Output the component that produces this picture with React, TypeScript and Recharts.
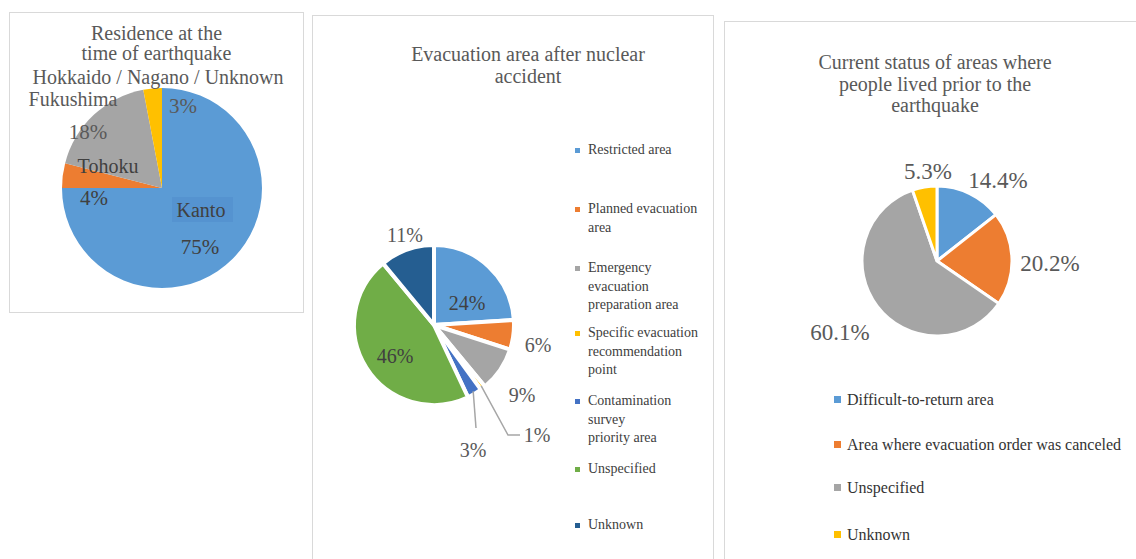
import { PieChart, Pie, Cell } from 'recharts'

// residence at time of earthquake
const residenceNames = ['Kanto', 'Tohoku', 'Fukushima', 'Hokkaido / Nagano / Unknown']
const residenceValues = [75, 4, 18, 3]
const residenceColors = ['#5B9BD5', '#ED7D31', '#A5A5A5', '#FFC000']

// evacuation area after nuclear accident
const evacNames = [
  'Restricted area',
  'Planned evacuation\narea',
  'Emergency\nevacuation\npreparation area',
  'Specific evacuation\nrecommendation\npoint',
  'Contamination\nsurvey\npriority area',
  'Unspecified',
  'Unknown',
]
const evacValues = [24, 6, 9, 1, 3, 46, 11]
const evacColors = ['#5B9BD5', '#ED7D31', '#A5A5A5', '#FFC000', '#4472C4', '#70AD47', '#255E91']

// current status of former home areas
const statusNames = [
  'Difficult-to-return area',
  'Area where evacuation order was canceled',
  'Unspecified',
  'Unknown',
]
const statusValues = [14.4, 20.2, 60.1, 5.3]
const statusColors = ['#5B9BD5', '#ED7D31', '#A5A5A5', '#FFC000']

// label placement, offsets from pie centre
const residenceNameSpots = [[39, 22], [-54, -22], [-89, -89], [-4, -111]]
const residenceValueSpots = [[38, 59], [-68, 10], [-74, -56], [21, -82]]
const evacLabelSpots = [[33, -22], [104, 20], [88, 70], [103, 110], [39, 125], [-39, 31], [-29, -90]]
const evacLeaders: Record<number, number[][]> = { 3: [[74, 110], [86, 110]], 4: [[42, 103]] }
const statusLabelSpots = [[61, -81], [113, 2], [-97, 71], [-9, -90]]

// legend first-line centres (px from panel top)
const evacLegendY = [134, 193, 252, 317, 385, 453, 509]
const statusLegendY = [378, 423, 466, 513]

const FONT = '"Liberation Serif", "DejaVu Serif", serif'
const RAD = Math.PI / 180
const NO_MARGIN = { top: 0, right: 0, bottom: 0, left: 0 }

const toRows = (names: string[], values: number[]) =>
  names.map((name, i) => ({ name, value: values[i] }))

const residenceData = toRows(residenceNames, residenceValues)
const evacData = toRows(evacNames, evacValues)
const statusData = toRows(statusNames, statusValues)

function ResidenceLabel(p: any) {
  const { cx, cy, index, value } = p
  const [nx, ny] = residenceNameSpots[index]
  const [vx, vy] = residenceValueSpots[index]
  const inside = index < 2
  const col = inside ? '#404040' : '#595959'
  return (
    <g>
      {index === 0 && <rect x={cx + 10} y={cy + 9} width={61} height={25} fill="#5593d0" />}
      <text x={cx + nx} y={cy + ny} textAnchor="middle" dominantBaseline="central"
        fontFamily={FONT} fontSize={20} fill={col}>
        {residenceNames[index]}
      </text>
      <text x={cx + vx} y={cy + vy} textAnchor="middle" dominantBaseline="central"
        fontFamily={FONT} fontSize={21} fill={col}>
        {value}%
      </text>
    </g>
  )
}

function EvacLabel(p: any) {
  const { cx, cy, index, value, midAngle, outerRadius } = p
  const [dx, dy] = evacLabelSpots[index]
  const leader = evacLeaders[index]
  let path = ''
  if (leader) {
    const sx = cx + Math.cos(-midAngle * RAD) * (outerRadius - 3)
    const sy = cy + Math.sin(-midAngle * RAD) * (outerRadius - 3)
    path = `M${sx},${sy}` + leader.map(([lx, ly]) => ` L${cx + lx},${cy + ly}`).join('')
  }
  const inside = index === 0 || index === 5
  return (
    <g>
      {leader && <path d={path} stroke="#A6A6A6" strokeWidth={1.5} fill="none" />}
      <text x={cx + dx} y={cy + dy} textAnchor="middle" dominantBaseline="central"
        fontFamily={FONT} fontSize={20} fill={inside ? '#404040' : '#595959'}>
        {value}%
      </text>
    </g>
  )
}

function StatusLabel(p: any) {
  const { cx, cy, index, value } = p
  const [dx, dy] = statusLabelSpots[index]
  return (
    <text x={cx + dx} y={cy + dy} textAnchor="middle" dominantBaseline="central"
      fontFamily={FONT} fontSize={23} fill="#595959">
      {value.toFixed(1)}%
    </text>
  )
}

const panel = (left: number, top: number, width: number, height: number): React.CSSProperties => ({
  position: 'absolute',
  left,
  top,
  width,
  height,
  border: '1px solid #d9d9d9',
  boxSizing: 'border-box',
  background: '#fff',
})

const title = (left: number, top: number, width: number, lh: number): React.CSSProperties => ({
  position: 'absolute',
  left,
  top,
  width,
  textAlign: 'center',
  fontFamily: FONT,
  fontSize: 20,
  lineHeight: `${lh}px`,
  color: '#595959',
})

export default function App() {
  return (
    <div style={{ position: 'absolute', left: 0, top: 0, width: 1136, height: 559, overflow: 'hidden', background: '#fff' }}>
      {/* panel 1 */}
      <div style={panel(9, 12, 295, 301)}>
        <div style={title(0, 10, 293, 20)}>
          Residence at the<br />time of earthquake
        </div>
        <PieChart width={293} height={299} margin={NO_MARGIN} style={{ position: 'absolute', left: 0, top: 0 }}>
          <Pie data={residenceData} dataKey="value" nameKey="name" cx={152} cy={175}
            outerRadius={100} startAngle={90} endAngle={-270} stroke="none"
            label={ResidenceLabel} labelLine={false} isAnimationActive={false}>
            {residenceData.map((_, i) => <Cell key={i} fill={residenceColors[i]} />)}
          </Pie>
        </PieChart>
      </div>

      {/* panel 2 */}
      <div style={panel(312, 15, 402, 560)}>
        <div style={title(60, 27, 310, 22)}>
          Evacuation area after nuclear<br />accident
        </div>
        <PieChart width={400} height={545} margin={NO_MARGIN} style={{ position: 'absolute', left: 0, top: 0 }}>
          <Pie data={evacData} dataKey="value" nameKey="name" cx={121} cy={309}
            outerRadius={80} startAngle={90} endAngle={-270} stroke="#fff" strokeWidth={4}
            label={EvacLabel} labelLine={false} isAnimationActive={false}>
            {evacData.map((_, i) => <Cell key={i} fill={evacColors[i]} stroke="#fff" strokeWidth={4} />)}
          </Pie>
        </PieChart>
        {evacNames.map((n, i) => (
          <div key={i} style={{ position: 'absolute', left: 262, top: evacLegendY[i] - 9, fontFamily: FONT, fontSize: 14, lineHeight: '18.5px', color: '#404040' }}>
            <span style={{ position: 'absolute', left: 0, top: 7, width: 5, height: 5, background: evacColors[i] }} />
            <div style={{ marginLeft: 13, whiteSpace: 'pre' }}>{n}</div>
          </div>
        ))}
      </div>

      {/* panel 3 */}
      <div style={panel(724, 21, 430, 560)}>
        <div style={title(60, 30, 300, 21.5)}>
          Current status of areas where<br />people lived prior to the<br />earthquake
        </div>
        <PieChart width={411} height={540} margin={NO_MARGIN} style={{ position: 'absolute', left: 0, top: 0 }}>
          <Pie data={statusData} dataKey="value" nameKey="name" cx={212} cy={239}
            outerRadius={75} startAngle={90} endAngle={-270} stroke="#fff" strokeWidth={3}
            label={StatusLabel} labelLine={false} isAnimationActive={false}>
            {statusData.map((_, i) => <Cell key={i} fill={statusColors[i]} stroke="#fff" strokeWidth={3} />)}
          </Pie>
        </PieChart>
        {statusNames.map((n, i) => (
          <div key={i} style={{ position: 'absolute', left: 109, top: statusLegendY[i] - 10, fontFamily: FONT, fontSize: 16, lineHeight: '20px', color: '#333', whiteSpace: 'nowrap' }}>
            <span style={{ position: 'absolute', left: 0, top: 6, width: 7, height: 7, background: statusColors[i] }} />
            <span style={{ marginLeft: 13 }}>{n}</span>
          </div>
        ))}
      </div>
    </div>
  )
}
